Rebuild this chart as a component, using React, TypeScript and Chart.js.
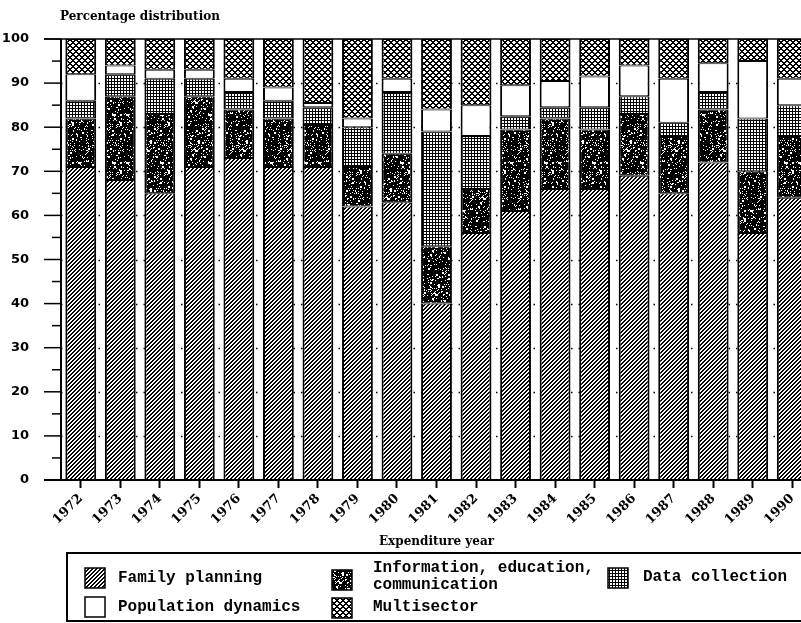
import React, { useEffect, useRef } from "react";
import { Chart, registerables } from "chart.js";

Chart.register(...registerables);

const YEARS = ["1972", "1973", "1974", "1975", "1976", "1977", "1978", "1979", "1980", "1981", "1982", "1983", "1984", "1985", "1986", "1987", "1988", "1989", "1990"];
const FAMILY_PLANNING = [71, 68, 65, 71, 73, 71, 71, 62, 63, 40, 56, 61, 66, 66, 69, 65, 72, 56, 64];
const IEC = [11, 19, 18, 16, 11, 11, 9.5, 9, 11, 13, 10, 18.5, 16, 13.5, 14, 13, 12, 14, 14];
const DATA_COLLECTION = [4, 5, 8, 4, 4, 4, 4, 9, 14, 26, 12, 3, 2.5, 5, 4, 3, 4, 12, 7];
const POPULATION_DYNAMICS = [6, 2, 2, 2, 3, 3, 1, 2, 3, 5, 7, 7, 6, 7, 7, 10, 6.5, 13, 6];
const MULTISECTOR = [8, 6, 7, 7, 9, 11, 14.5, 18, 9, 16, 15, 10.5, 9.5, 8.5, 6, 9, 5.5, 5, 9];
const Y_TICKS_MAJOR = [0, 10, 20, 30, 40, 50, 60, 70, 80, 90, 100];
const Y_TICKS_MINOR = [5, 15, 25, 35, 45, 55, 65, 75, 85, 95];

const TITLE = "Percentage distribution";
const X_TITLE = "Expenditure year";

function hash(x: number, y: number): number {
  let h = (x * 374761393 + y * 668265263) | 0;
  h = Math.imul(h ^ (h >>> 13), 1274126177);
  h = h ^ (h >>> 16);
  return (h >>> 0) / 4294967295;
}

function makePattern(ctx: CanvasRenderingContext2D, size: number, isBlack: (x: number, y: number) => boolean): CanvasPattern {
  const c = document.createElement("canvas");
  c.width = size;
  c.height = size;
  const tctx = c.getContext("2d")!;
  const img = tctx.createImageData(size, size);
  for (let y = 0; y < size; y++) {
    for (let x = 0; x < size; x++) {
      const v = isBlack(x, y) ? 0 : 255;
      const i = (y * size + x) * 4;
      img.data[i] = v;
      img.data[i + 1] = v;
      img.data[i + 2] = v;
      img.data[i + 3] = 255;
    }
  }
  tctx.putImageData(img, 0, 0);
  return ctx.createPattern(c, "repeat")!;
}

export default function App() {
  const ref = useRef<HTMLCanvasElement | null>(null);

  useEffect(() => {
    const canvas = ref.current!;
    const ctx = canvas.getContext("2d")!;

    const hatch = makePattern(ctx, 4, (x, y) => (x + y) % 4 < 2);
    const speckle = makePattern(ctx, 48, (x, y) => {
      const a = hash(x, y) < 0.12;
      const b = hash(x >> 1, (y >> 1) + 777) < 0.06;
      return !(a || b);
    });
    const grid = makePattern(ctx, 3, (x, y) => x === 0 || y === 0);
    const cross = makePattern(ctx, 6, (x, y) => (x + y) % 6 < 2 || (x - y + 12) % 6 < 2);

    const decorPlugin = {
      id: "decor",
      beforeDatasetsDraw(chart: any) {
        const c = chart.ctx;
        const { left, right } = chart.chartArea;
        const ys = chart.scales.y;
        c.save();
        c.strokeStyle = "#000";
        c.lineWidth = 1.5;
        c.setLineDash([1.5, 6]);
        for (const v of Y_TICKS_MAJOR) {
          if (v === 0 || v === 100) continue;
          const py = Math.round(ys.getPixelForValue(v)) + 0.5;
          c.beginPath();
          c.moveTo(left, py);
          c.lineTo(right, py);
          c.stroke();
        }
        c.restore();
      },
      afterDatasetsDraw(chart: any) {
        const c = chart.ctx;
        const { left, top, bottom } = chart.chartArea;
        const ys = chart.scales.y;
        const W = chart.width;
        c.save();
        c.strokeStyle = "#000";
        c.lineWidth = 1.5;
        c.beginPath();
        c.moveTo(44, ys.getPixelForValue(100));
        c.lineTo(W, ys.getPixelForValue(100));
        c.stroke();
        c.lineWidth = 2;
        c.beginPath();
        c.moveTo(44, ys.getPixelForValue(0));
        c.lineTo(W, ys.getPixelForValue(0));
        c.stroke();
        c.beginPath();
        c.moveTo(left, top);
        c.lineTo(left, bottom);
        c.stroke();
        c.lineWidth = 1.5;
        for (const v of Y_TICKS_MAJOR) {
          const py = ys.getPixelForValue(v);
          c.beginPath();
          c.moveTo(44, py);
          c.lineTo(left, py);
          c.stroke();
        }
        for (const v of Y_TICKS_MINOR) {
          const py = ys.getPixelForValue(v);
          c.beginPath();
          c.moveTo(52, py);
          c.lineTo(left, py);
          c.stroke();
        }
        c.fillStyle = "#000";
        c.font = "bold 12px 'DejaVu Serif'";
        c.textAlign = "left";
        c.textBaseline = "middle";
        c.fillText(TITLE, 60, 17);

        c.lineWidth = 2;
        c.strokeRect(67, 553, 745, 68);
        const items: { fill: any; x: number; y: number; lines: string[]; tx: number; ty: number[] }[] = [
          { fill: hatch, x: 85, y: 568, lines: ["Family planning"], tx: 118, ty: [578] },
          { fill: "#fff", x: 85, y: 597, lines: ["Population dynamics"], tx: 118, ty: [607] },
          { fill: speckle, x: 332, y: 570, lines: ["Information, education,", "communication"], tx: 373, ty: [568, 585] },
          { fill: cross, x: 332, y: 598, lines: ["Multisector"], tx: 373, ty: [607] },
          { fill: grid, x: 608, y: 568, lines: ["Data collection"], tx: 643, ty: [577] },
        ];
        c.font = "bold 16px 'Liberation Mono'";
        for (const it of items) {
          c.fillStyle = it.fill;
          c.fillRect(it.x, it.y, 20, 20);
          c.lineWidth = 1.5;
          c.strokeRect(it.x, it.y, 20, 20);
          c.fillStyle = "#000";
          it.lines.forEach((t, i) => c.fillText(t, it.tx, it.ty[i]));
        }
        c.restore();
      },
    };

    const common = {
      borderColor: "#000",
      borderWidth: { left: 2, right: 2, top: 1, bottom: 1 },
      borderSkipped: false as const,
      barPercentage: 0.78,
      categoryPercentage: 1,
    };

    const chart = new Chart(canvas, {
      type: "bar",
      data: {
        labels: YEARS,
        datasets: [
          { label: "Family planning", data: FAMILY_PLANNING, backgroundColor: hatch, ...common },
          { label: "Information, education, communication", data: IEC, backgroundColor: speckle, ...common },
          { label: "Data collection", data: DATA_COLLECTION, backgroundColor: grid, ...common },
          { label: "Population dynamics", data: POPULATION_DYNAMICS, backgroundColor: "#fff", ...common },
          { label: "Multisector", data: MULTISECTOR, backgroundColor: cross, ...common },
        ],
      },
      options: {
        responsive: false,
        animation: false,
        devicePixelRatio: 1,
        layout: { padding: { top: 39, bottom: 73, left: 0, right: 0 } },
        plugins: {
          legend: { display: false },
          tooltip: { enabled: false },
          title: { display: false },
        },
        scales: {
          x: {
            stacked: true,
            grid: {
              display: true,
              drawOnChartArea: false,
              offset: false,
              tickLength: 8,
              tickWidth: 2,
              tickColor: "#000",
            },
            border: { display: false },
            ticks: {
              autoSkip: false,
              maxRotation: 45,
              minRotation: 45,
              padding: 3,
              color: "#000",
              font: { family: "'DejaVu Serif'", weight: "bold", size: 13 },
            },
            title: {
              display: true,
              text: X_TITLE,
              color: "#000",
              font: { family: "'DejaVu Serif'", weight: "bold", size: 12 },
              padding: { top: 0, bottom: 1 },
            },
            afterFit: (s: any) => {
              s.height = 70;
            },
          },
          y: {
            stacked: true,
            min: 0,
            max: 100,
            grid: { display: false },
            border: { display: false },
            ticks: {
              stepSize: 10,
              padding: 24,
              color: "#000",
              font: { family: "'DejaVu Sans'", weight: "bold", size: 13 },
            },
            afterFit: (s: any) => {
              s.width = 61;
            },
          },
        },
      },
      plugins: [decorPlugin],
    });

    return () => chart.destroy();
  }, []);

  return (
    <div style={{ position: "fixed", left: 0, top: 0, width: 801, height: 623, overflow: "hidden", background: "#fff" }}>
      <canvas ref={ref} width={812} height={623} style={{ display: "block", width: 812, height: 623 }} />
    </div>
  );
}
